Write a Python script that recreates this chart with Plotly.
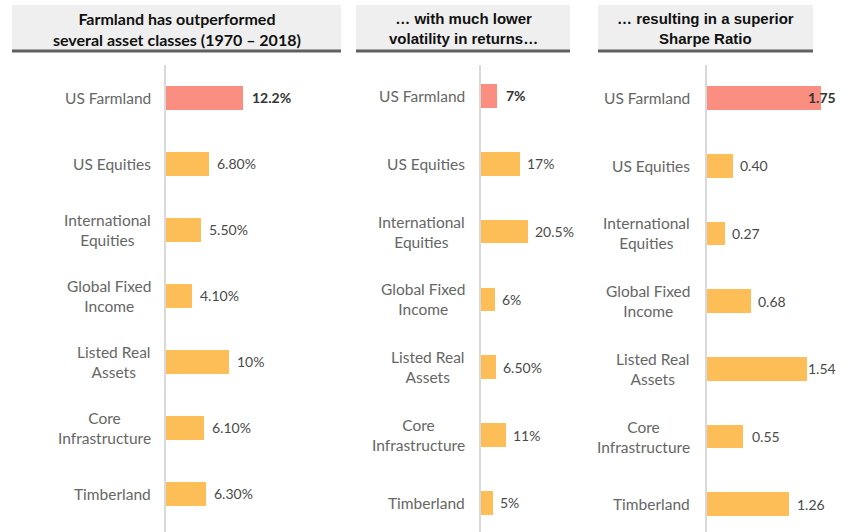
import plotly.graph_objects as go

categories = ["US Farmland", "US Equities", "International<br>Equities", "Global Fixed<br>Income",
              "Listed Real<br>Assets", "Core<br>Infrastructure", "Timberland"]

returns = [12.2, 6.8, 5.5, 4.1, 10.0, 6.1, 6.3]
returns_text = ["12.2%", "6.80%", "5.50%", "4.10%", "10%", "6.10%", "6.30%"]

volatility = [7.0, 17.0, 20.5, 6.0, 6.5, 11.0, 5.0]
volatility_text = ["7%", "17%", "20.5%", "6%", "6.50%", "11%", "5%"]

sharpe = [1.75, 0.40, 0.27, 0.68, 1.54, 0.55, 1.26]
sharpe_text = ["1.75", "0.40", "0.27", "0.68", "1.54", "0.55", "1.26"]

titles = ["Farmland has outperformed<br>several asset classes (1970 – 2018)",
          "… with much lower<br>volatility in returns…",
          "… resulting in a superior<br>Sharpe Ratio"]

W, H = 850, 532
ORANGE = "#FDBD57"
SALMON = "#FA8E80"
LABEL_FONT = "Lato, 'Open Sans', sans-serif"

panels = [
    dict(vals=returns, text=returns_text, xdom=(166, 340), xr=27.6, yr=[6.576, -0.5],
         hbox=(12, 341), tfont="Lato, sans-serif", tsize=16, lshift=-13,
         xshift=[7, 6, 6, 6, 6, 6, 6]),
    dict(vals=volatility, text=volatility_text, xdom=(481, 570), xr=38.7, yr=[6.43, -0.457],
         hbox=(356, 570), tfont="'Liberation Sans', Arial, sans-serif", tsize=15, lshift=-14,
         xshift=[7, 5, 5, 5, 5, 5, 5]),
    dict(vals=sharpe, text=sharpe_text, xdom=(707, 840), xr=2.043, yr=[6.41, -0.487],
         hbox=(598, 813), tfont="'Liberation Sans', Arial, sans-serif", tsize=15, lshift=-15,
         xshift=[-15, 5, 5, 5, -1, 7, 6]),
]

fig = go.Figure()
annotations = []
shapes = []
for i, p in enumerate(panels):
    n = "" if i == 0 else str(i + 1)
    colors = [SALMON] + [ORANGE] * (len(p["vals"]) - 1)
    fig.add_trace(go.Bar(
        x=p["vals"], y=categories, orientation="h", marker=dict(color=colors, line=dict(width=0)),
        width=0.35, xaxis="x" + n, yaxis="y" + n, hoverinfo="skip", showlegend=False,
    ))
    x0, x1 = p["xdom"]
    fig.layout["xaxis" + n] = dict(domain=[x0 / W, x1 / W], range=[0, p["xr"]], visible=False,
                                   anchor="y" + n, fixedrange=True)
    fig.layout["yaxis" + n] = dict(domain=[0, 1 - 65 / H], type="category", range=p["yr"],
                                   anchor="x" + n, showline=True, linecolor="#D9D9D9", linewidth=1.5,
                                   showgrid=False, zeroline=False, ticks="", showticklabels=False,
                                   fixedrange=True)
    for j, (v, t) in enumerate(zip(p["vals"], p["text"])):
        bold = j == 0
        annotations.append(dict(
            x=v, y=categories[j], xref="x" + n, yref="y" + n, text=f"<b>{t}</b>" if bold else t,
            showarrow=False, xanchor="left", xshift=p["xshift"][j],
            font=dict(family=LABEL_FONT, size=14, color="#333333" if bold else "#4A4A4A"),
        ))
        annotations.append(dict(
            x=0, y=categories[j], xref="x" + n, yref="y" + n, text=categories[j],
            showarrow=False, xanchor="right", yanchor="middle", align="center",
            xshift=p["lshift"], font=dict(family=LABEL_FONT, size=15.5, color="#666666"),
        ))
    hx0, hx1 = p["hbox"]
    shapes.append(dict(type="rect", xref="paper", yref="paper", x0=hx0 / W, x1=hx1 / W,
                       y0=1 - 50 / H, y1=1 - 5 / H, fillcolor="#EFEFEF", line=dict(width=0), layer="below"))
    shapes.append(dict(type="line", xref="paper", yref="paper", x0=hx0 / W, x1=hx1 / W,
                       y0=1 - 51 / H, y1=1 - 51 / H, line=dict(color="#606060", width=3)))
    annotations.append(dict(
        x=(hx0 + hx1) / 2 / W, y=1 - 28.5 / H, xref="paper", yref="paper", text=f"<b>{titles[i]}</b>",
        showarrow=False, xanchor="center", yanchor="middle",
        font=dict(family=p["tfont"], size=p["tsize"], color="#111111"),
    ))

fig.update_layout(
    width=W, height=H, margin=dict(l=0, r=0, t=0, b=0),
    paper_bgcolor="white", plot_bgcolor="white",
    annotations=annotations, shapes=shapes, bargap=0,
)

fig.write_html("out.html")
